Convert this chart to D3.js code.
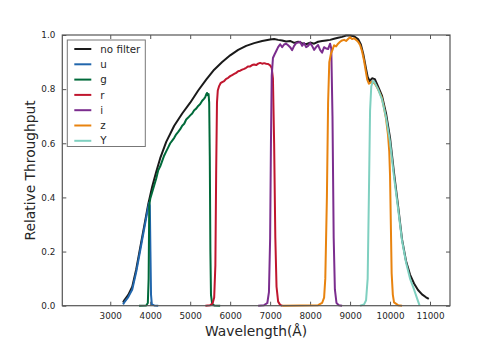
<!DOCTYPE html>
<html>
<head>
<meta charset="utf-8">
<script src="https://cdn.jsdelivr.net/npm/d3@7"></script>
<style>
  body { margin: 0; background: #fff; }
  text { font-family: "DejaVu Sans", sans-serif; fill: #262626; }
</style>
</head>
<body>
<div id="chart"></div>
<script>
var WD = 500, HT = 350
var margin = { left: 62.3, right: 50, top: 35, bottom: 44.3 }
var width = WD - margin.left - margin.right
var height = HT - margin.top - margin.bottom

// filter names, colours, curves [wavelength (A), throughput]
var names = ['no filter', 'u', 'g', 'r', 'i', 'z', 'Y']
var colors = ['#1a1a1a', '#2166ac', '#006a3a', '#c0162e', '#7b2d8e', '#e8830f', '#7fd0c0']
var xTicks = [3000, 4000, 5000, 6000, 7000, 8000, 9000, 10000, 11000]
var yTicks = [0, 0.2, 0.4, 0.6, 0.8, 1.0]

var noFilter = [[3320,0.012],[3350,0.02],[3450,0.04],[3550,0.07],[3650,0.135],[3750,0.215],[3850,0.295],[3950,0.375],
  [4050,0.44],[4150,0.495],[4250,0.545],[4400,0.605],[4600,0.665],[4800,0.71],[5000,0.75],[5200,0.795],[5400,0.835],
  [5600,0.872],[5800,0.9],[6000,0.925],[6200,0.945],[6400,0.96],[6600,0.97],[6800,0.978],[7000,0.983],[7100,0.985],
  [7200,0.982],[7300,0.98],[7400,0.976],[7500,0.978],[7600,0.971],[7700,0.975],[7800,0.97],[7900,0.966],[8000,0.972],
  [8100,0.968],[8200,0.975],[8300,0.978],[8400,0.98],[8500,0.982],[8600,0.986],[8700,0.99],[8800,0.993],[8900,0.998],
  [9000,0.998],[9100,0.995],[9200,0.985],[9270,0.965],[9330,0.93],[9400,0.875],[9440,0.845],[9490,0.83],[9550,0.84],
  [9620,0.837],[9700,0.81],[9800,0.775],[9900,0.71],[10000,0.62],[10100,0.49],[10200,0.37],[10300,0.245],
  [10400,0.165],[10500,0.115],[10600,0.082],[10700,0.058],[10800,0.042],[10900,0.031],[10970,0.025]]

var uBand = [[3320,0.005],[3350,0.012],[3450,0.032],[3550,0.06],[3650,0.125],[3750,0.205],[3850,0.285],[3930,0.35],
  [3970,0.38],[3990,0.37],[4005,0.2],[4020,0.04],[4040,0.005],[4100,0.001],[4200,0]]

var gBand = [[3720,0],[3900,0.001],[3940,0.01],[3960,0.1],[3975,0.37],[4000,0.395],[4050,0.42],[4100,0.445],[4150,0.47],
  [4200,0.5],[4250,0.515],[4300,0.535],[4350,0.555],[4400,0.57],[4450,0.585],[4500,0.6],[4550,0.61],[4600,0.62],
  [4650,0.633],[4700,0.642],[4750,0.652],[4800,0.665],[4850,0.672],[4900,0.688],[4950,0.695],[5000,0.703],[5050,0.71],
  [5100,0.722],[5150,0.728],[5200,0.738],[5250,0.745],[5300,0.757],[5350,0.765],[5380,0.772],[5400,0.78],[5420,0.786],
  [5440,0.778],[5460,0.782],[5475,0.75],[5490,0.55],[5505,0.2],[5520,0.04],[5550,0.006],[5600,0.001],[5750,0]]

var rBand = [[5380,0],[5500,0.002],[5560,0.008],[5600,0.03],[5630,0.15],[5650,0.5],[5670,0.75],[5690,0.795],[5720,0.81],
  [5760,0.822],[5800,0.826],[5850,0.83],[5900,0.838],[5950,0.842],[6000,0.848],[6050,0.852],[6100,0.856],[6150,0.86],
  [6200,0.866],[6250,0.868],[6300,0.872],[6350,0.875],[6400,0.879],[6450,0.884],[6500,0.884],[6550,0.889],[6600,0.891],
  [6650,0.889],[6700,0.894],[6750,0.897],[6800,0.894],[6850,0.896],[6900,0.894],[6950,0.893],[7000,0.888],[7040,0.878],
  [7070,0.84],[7100,0.6],[7130,0.25],[7160,0.07],[7200,0.015],[7250,0.003],[7300,0]]

var iBand = [[6700,0],[6850,0.002],[6930,0.01],[6970,0.05],[7000,0.25],[7020,0.6],[7040,0.85],[7070,0.915],[7110,0.928],
  [7150,0.94],[7200,0.955],[7250,0.966],[7300,0.955],[7350,0.965],[7400,0.968],[7450,0.962],[7500,0.955],[7550,0.944],
  [7600,0.96],[7650,0.97],[7700,0.972],[7750,0.975],[7800,0.96],[7850,0.97],[7900,0.955],[7950,0.96],[8000,0.97],
  [8050,0.96],[8100,0.945],[8150,0.955],[8200,0.963],[8250,0.945],[8300,0.935],[8350,0.955],[8400,0.95],[8450,0.948],
  [8500,0.968],[8530,0.95],[8560,0.7],[8590,0.25],[8620,0.06],[8660,0.01],[8720,0.002],[8800,0]]

var zBand = [[7300,0],[8200,0.002],[8300,0.01],[8350,0.03],[8380,0.1],[8420,0.4],[8450,0.75],[8480,0.9],[8520,0.93],
  [8560,0.945],[8600,0.962],[8650,0.958],[8700,0.968],[8750,0.975],[8800,0.98],[8850,0.982],[8900,0.978],[8950,0.985],
  [9000,0.992],[9050,0.985],[9100,0.988],[9150,0.982],[9200,0.975],[9250,0.963],[9300,0.94],[9350,0.905],[9400,0.86],
  [9430,0.835],[9470,0.82],[9520,0.825],[9560,0.828],[9620,0.82],[9680,0.805],[9730,0.79],[9790,0.77],[9850,0.73],
  [9900,0.69],[9950,0.63],[9980,0.57],[10000,0.48],[10020,0.3],[10040,0.12],[10070,0.04],[10100,0.012],[10200,0.002],
  [10300,0]]

var yBand = [[9250,0],[9350,0.005],[9400,0.02],[9440,0.1],[9470,0.4],[9500,0.72],[9530,0.81],[9570,0.83],[9610,0.826],
  [9700,0.8],[9800,0.762],[9900,0.695],[10000,0.605],[10100,0.475],[10200,0.36],[10300,0.24],[10400,0.16],
  [10500,0.1],[10600,0.06],[10680,0.025],[10740,0]]

var series = [noFilter, uBand, gBand, rBand, iBand, zBand, yBand]

var svg = d3.select("#chart")
            .append("svg")
                .attr("width", WD)
                .attr("height", HT)
            .append("g")
                .attr("transform", "translate(" + margin.left + "," + margin.top + ")")

var x = d3.scaleLinear().domain([1800, 11500]).range([0, width])
var y = d3.scaleLinear().domain([0, 1]).range([height, 0])

// inward ticks on all four sides
svg.append("g")
   .attr("transform", "translate(0," + height + ")")
   .call(d3.axisBottom(x).tickValues(xTicks).tickSize(-4).tickPadding(7).tickFormat(d3.format("d")))
svg.append("g")
   .call(d3.axisTop(x).tickValues(xTicks).tickSize(-4).tickFormat(""))
svg.append("g")
   .call(d3.axisLeft(y).tickValues(yTicks).tickSize(-4).tickPadding(7).tickFormat(d3.format(".1f")))
svg.append("g")
   .attr("transform", "translate(" + width + ",0)")
   .call(d3.axisRight(y).tickValues(yTicks).tickSize(-4).tickFormat(""))

svg.selectAll(".domain").remove()
svg.selectAll(".tick line").attr("stroke", "#555")
svg.selectAll(".tick text").style("font-size", "8.8px").attr("fill", "#262626")

var line = d3.line().x(function(d){ return x(d[0]) }).y(function(d){ return y(d[1]) })

svg.selectAll("path.band")
   .data(series)
   .enter()
   .append("path")
      .attr("class", "band")
      .attr("d", line)
      .attr("fill", "none")
      .attr("stroke", function(d, i){ return colors[i] })
      .attr("stroke-width", 2)
      .attr("stroke-linejoin", "round")

// frame
svg.append("rect")
   .attr("width", width).attr("height", height)
   .attr("fill", "none").attr("stroke", "#555").attr("stroke-width", 1.2)

// axis labels
svg.append("text")
   .attr("x", width / 2).attr("y", height + 30.5)
   .attr("text-anchor", "middle")
   .style("font-size", "13.8px")
   .text("Wavelength(Å)")
svg.append("text")
   .attr("transform", "translate(" + (35 - margin.left) + "," + (height / 2) + ") rotate(-90)")
   .attr("text-anchor", "middle")
   .style("font-size", "13.8px")
   .text("Relative Throughput")

// legend
var legend = svg.append("g").attr("transform", "translate(5,5)")
legend.append("rect")
   .attr("width", 78).attr("height", 106.5)
   .attr("fill", "#fff").attr("stroke", "#777").attr("stroke-width", 1)
names.forEach(function(n, i) {
    var ly = 9 + i * 15.3
    legend.append("line")
       .attr("x1", 7).attr("x2", 24).attr("y1", ly).attr("y2", ly)
       .attr("stroke", colors[i]).attr("stroke-width", 2)
    legend.append("text")
       .attr("x", 33).attr("y", ly).attr("dy", "0.35em")
       .style("font-size", "10.3px")
       .text(n)
})
</script>
